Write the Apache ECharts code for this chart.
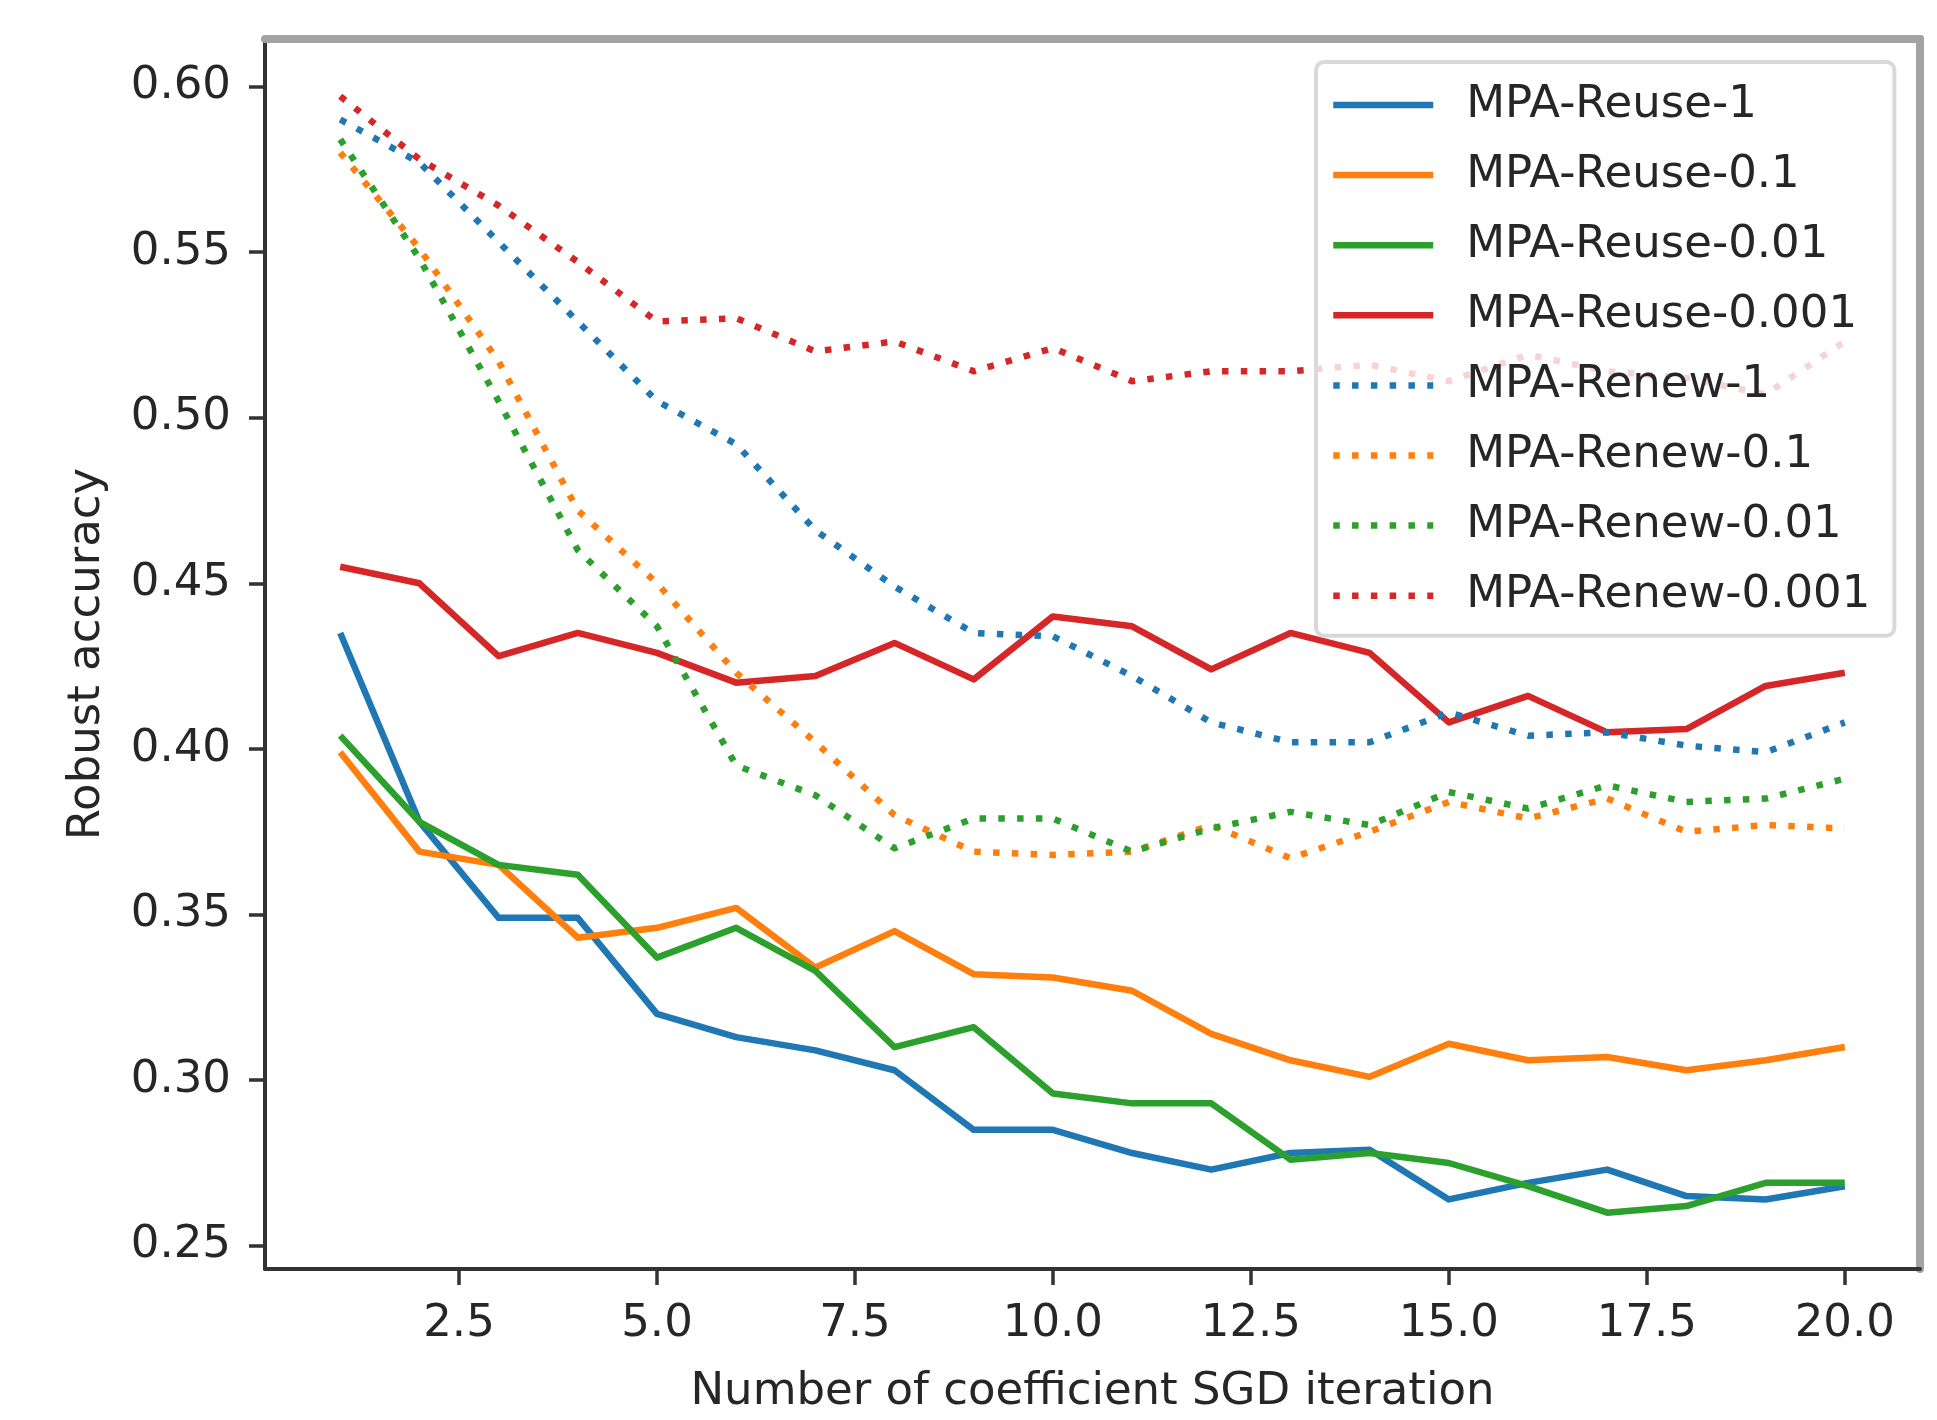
<!DOCTYPE html>
<html>
<head>
<meta charset="utf-8">
<script src="https://cdn.jsdelivr.net/npm/echarts@6/dist/echarts.min.js"></script>
<style>
html,body{margin:0;padding:0;background:#fff;}
#chart{width:1937px;height:1420px;}
</style>
</head>
<body>
<div id="chart"></div>
<script>
// ---- data ----
const iterations = [1,2,3,4,5,6,7,8,9,10,11,12,13,14,15,16,17,18,19,20];
const xTicks = [2.5, 5, 7.5, 10, 12.5, 15, 17.5, 20];
const yTicks = [0.25, 0.30, 0.35, 0.40, 0.45, 0.50, 0.55, 0.60];
const seriesNames = ['MPA-Reuse-1','MPA-Reuse-0.1','MPA-Reuse-0.01','MPA-Reuse-0.001',
                     'MPA-Renew-1','MPA-Renew-0.1','MPA-Renew-0.01','MPA-Renew-0.001'];
const reuse1    = [0.435,0.378,0.349,0.349,0.320,0.313,0.309,0.303,0.285,0.285,0.278,0.273,0.278,0.279,0.264,0.269,0.273,0.265,0.264,0.268];
const reuse01   = [0.399,0.369,0.365,0.343,0.346,0.352,0.334,0.345,0.332,0.331,0.327,0.314,0.306,0.301,0.311,0.306,0.307,0.303,0.306,0.310];
const reuse001  = [0.404,0.378,0.365,0.362,0.337,0.346,0.333,0.310,0.316,0.296,0.293,0.293,0.276,0.278,0.275,0.268,0.260,0.262,0.269,0.269];
const reuse0001 = [0.455,0.450,0.428,0.435,0.429,0.420,0.422,0.432,0.421,0.440,0.437,0.424,0.435,0.429,0.408,0.416,0.405,0.406,0.419,0.423];
const renew1    = [0.590,0.577,0.553,0.529,0.505,0.492,0.466,0.449,0.435,0.434,0.422,0.408,0.402,0.402,0.411,0.404,0.405,0.401,0.399,0.408];
const renew01   = [0.580,0.551,0.517,0.472,0.450,0.423,0.402,0.380,0.369,0.368,0.369,0.377,0.367,0.375,0.384,0.379,0.385,0.375,0.377,0.376];
const renew001  = [0.584,0.548,0.505,0.460,0.437,0.395,0.386,0.370,0.379,0.379,0.369,0.376,0.381,0.377,0.387,0.382,0.389,0.384,0.385,0.391];
const renew0001 = [0.597,0.578,0.564,0.547,0.529,0.530,0.520,0.523,0.514,0.521,0.511,0.514,0.514,0.516,0.511,0.519,0.514,0.512,0.507,0.523];

const allValues = [reuse1, reuse01, reuse001, reuse0001, renew1, renew01, renew001, renew0001];
const colors = ['#1f77b4','#ff7f0e','#2ca02c','#d62728','#1f77b4','#ff7f0e','#2ca02c','#d62728'];

// ---- chart ----
const FONT = 'DejaVu Sans';
const XMIN = 0.05, XMAX = 20.95, YMIN = 0.2430, YMAX = 0.6143;
const LW = 6.5;
const DOT = [6.5, 12.3];
const chart = echarts.init(document.getElementById('chart'), null, {renderer: 'canvas'});

const lineType = i => (i < 4 ? 'solid' : DOT);

const series = allValues.map((vals, i) => ({
  name: seriesNames[i],
  type: 'line',
  xAxisIndex: 0,
  yAxisIndex: 0,
  data: iterations.map((x, j) => [x, vals[j]]),
  showSymbol: false,
  symbol: 'none',
  smooth: false,
  animation: false,
  color: colors[i],
  lineStyle: {color: colors[i], width: LW, type: lineType(i), cap: 'butt', join: 'round'},
  emphasis: {disabled: true}
}));

const legendData = seriesNames.map((n, i) => ({
  name: n,
  lineStyle: {color: colors[i], width: LW, type: lineType(i), cap: 'butt'},
  itemStyle: {color: 'rgba(0,0,0,0)', borderColor: 'rgba(0,0,0,0)', borderWidth: 0, opacity: 0}
}));

chart.setOption({
  animation: false,
  backgroundColor: '#ffffff',
  grid: {left: 265, right: 17, top: 39, bottom: 144, containLabel: false},
  xAxis: [{
    type: 'value', min: XMIN, max: XMAX, position: 'bottom',
    name: 'Number of coefficient SGD iteration',
    nameLocation: 'middle', nameGap: 101,
    nameTextStyle: {fontFamily: FONT, fontSize: 45, color: '#262626'},
    axisLine: {show: true, onZero: false, lineStyle: {color: '#333', width: 4}},
    axisTick: {show: true, inside: false, length: 16, lineStyle: {color: '#333', width: 3.5}, customValues: xTicks},
    axisLabel: {show: true, margin: 33, fontFamily: FONT, fontSize: 45, color: '#262626',
      customValues: xTicks, formatter: v => Number(v).toFixed(1)},
    splitLine: {show: false}
  }, {
    type: 'value', min: XMIN, max: XMAX, position: 'top',
    axisLine: {show: true, onZero: false, lineStyle: {color: '#a3a3a3', width: 8}},
    axisTick: {show: false}, axisLabel: {show: false}, splitLine: {show: false}
  }],
  yAxis: [{
    type: 'value', min: YMIN, max: YMAX, position: 'left',
    name: 'Robust accuracy',
    nameLocation: 'middle', nameGap: 155, nameRotate: 90,
    nameTextStyle: {fontFamily: FONT, fontSize: 45, color: '#262626'},
    axisLine: {show: true, onZero: false, lineStyle: {color: '#333', width: 4}},
    axisTick: {show: true, inside: false, length: 16, lineStyle: {color: '#333', width: 3.5}, customValues: yTicks},
    axisLabel: {show: true, margin: 34, fontFamily: FONT, fontSize: 45, color: '#262626',
      customValues: yTicks, formatter: v => Number(v).toFixed(2)},
    splitLine: {show: false}
  }, {
    type: 'value', min: YMIN, max: YMAX, position: 'right',
    axisLine: {show: true, onZero: false, lineStyle: {color: '#a3a3a3', width: 8}},
    axisTick: {show: false}, axisLabel: {show: false}, splitLine: {show: false}
  }],
  legend: {
    show: true,
    orient: 'vertical',
    left: 1316,
    top: 62,
    data: legendData,
    itemWidth: 100,
    itemHeight: 14,
    itemGap: 20.1,
    padding: [18, 24, 15, 14],
    backgroundColor: 'rgba(255,255,255,0.8)',
    borderColor: '#d9d9d9',
    borderWidth: 4,
    borderRadius: 8,
    selectedMode: false,
    lineStyle: {width: LW},
    itemStyle: {opacity: 0},
    textStyle: {fontFamily: FONT, fontSize: 45, color: '#262626', lineHeight: 50, padding: [0, 0, 0, 28]}
  },
  series: series
});
</script>
</body>
</html>
